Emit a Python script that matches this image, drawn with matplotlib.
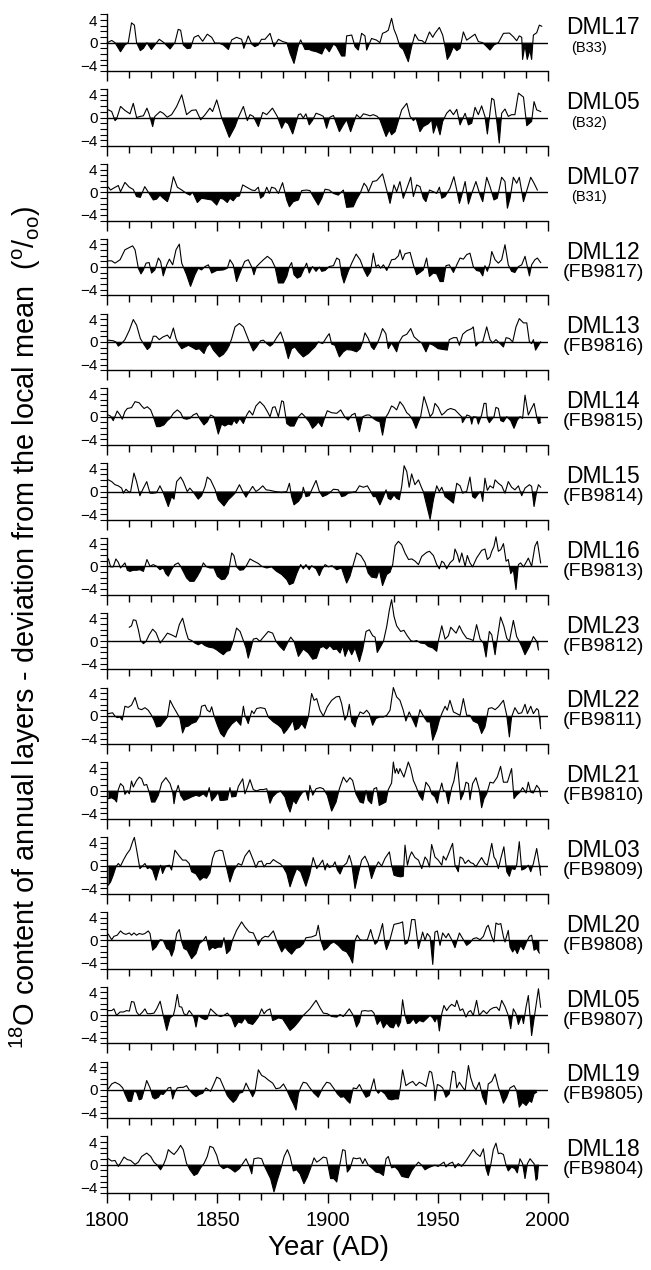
import numpy as np
import matplotlib.pyplot as plt
from matplotlib.ticker import MultipleLocator

plt.rcParams['font.family'] = ['Liberation Sans', 'DejaVu Sans']
plt.rcParams['mathtext.fontset'] = 'custom'
plt.rcParams['mathtext.rm'] = 'Liberation Sans'

# (year, deviation in per mil), one list per core
dml17 = [(1800, 0), (1802, 0.4), (1803.5, 0), (1806, -1.6), (1808, -0.4), (1809.5, 0), (1811, 3.5), (1812.3, 3.1),
         (1813.3, 0), (1815, -1.4), (1816.4, -1.0), (1818, 0), (1820, -1.2), (1821.6, -0.4), (1823.6, 0.6),
         (1825.4, 0.1), (1828.5, -1.1), (1830.7, 0), (1832.2, 2.35), (1833.3, 2.2), (1834.5, -0.4), (1836.3, -1.05),
         (1837.8, -0.95), (1839.4, 0.95), (1841.3, 1.3), (1843.3, 0.25), (1845.4, 1.5), (1847.4, 0.95), (1848.9, -0.1),
         (1850.9, -0.1), (1852.7, -0.4), (1855, -1.2), (1856.5, 0.5), (1858.7, 0.95), (1861, 0.6), (1862, -1.0),
         (1864, 1.2), (1865.6, -0.25), (1867, -0.7), (1868.6, -0.4), (1870, 0.6), (1871.6, 0.6), (1873.9, 1.65),
         (1875.7, -0.7), (1877.7, 0.6), (1879.6, 0.2), (1881.5, 0), (1883, -1.9), (1884.8, -3.65), (1886.7, -0.6),
         (1887.8, 0.5), (1889.8, -1.2), (1891.7, -1.2), (1892.8, -1.4), (1895, -1.6), (1897.4, -2.0), (1898.9, -0.7),
         (1900.8, -1.6), (1902.7, -0.25), (1904, -0.6), (1906.4, -2.35), (1907.9, -2.35), (1908.7, 1.2), (1911, 1.35),
         (1912.5, -0.7), (1914, -1.3), (1915.5, 1.65), (1917, 1.2), (1917.8, -1.3), (1920, 0.75), (1922.3, 0.45),
         (1923.8, 0), (1925, 1.65), (1926.5, 1.9), (1927.6, 2.2), (1929.1, 4.3), (1930.2, 2.35), (1931.4, 1.2),
         (1932.9, -0.7), (1934.4, -1.2), (1936.7, -3.35), (1938.2, -0.7), (1939.7, 1.5), (1941.3, 0.45), (1943, 0.35),
         (1944.3, -0.1), (1946.3, 1.9), (1947.8, 0.95), (1948.8, 1.65), (1950.8, 2.7), (1952.3, 1.35), (1953.4, -0.7),
         (1954.4, -2.95), (1955.6, -2.2), (1957.2, -0.7), (1958.7, -1.4), (1960.2, -1.0), (1961.7, 1.9), (1963.2, 0.45),
         (1965, 0.95), (1967, 1.5), (1968.5, 0.2), (1970.5, 0), (1972.3, -0.7), (1973.8, -1.3), (1975.6, -0.4),
         (1977.6, 0), (1979.9, 1.65), (1982.6, 1.7), (1984.4, 1.05), (1985.9, 0.35), (1987.1, 1.2), (1988.2, 0.95),
         (1988.6, -2.95), (1989.7, -0.4), (1990.7, -2.95), (1991.9, -1.3), (1992.7, -2.95), (1993.5, 1.35), (1995, 1.75),
         (1996.2, 3.1), (1997.3, 2.9)]

dml05_b32 = [(1800.5, 1.35), (1802, 1.05), (1803.5, -0.55), (1804.2, -0.3), (1806, 1.95), (1808, 1.25), (1810.3, 0.65),
             (1811.8, 2.5), (1813.3, 0), (1815, 0.2), (1816.4, 0.3), (1818, 1.65), (1819, 0.6), (1820.6, -1.6),
             (1821.6, 0.2), (1824, 1.05), (1825.4, 0.75), (1827.2, 0.05), (1829.2, 0.5), (1831.5, 1.95), (1833.8, 4.0),
             (1836, 0.5), (1838.3, 1.25), (1840.3, 1.35), (1842.4, -0.4), (1844.4, 0.5), (1846.6, 1.65), (1847.8, 1.05),
             (1849.7, 3.1), (1851.9, 0), (1855.4, -3.5), (1858, -1.6), (1859.5, 0), (1861.8, 1.95), (1863.6, -0.55),
             (1864.8, 0.5), (1866.3, 0.2), (1868.6, -1.6), (1870.6, 0.9), (1872.4, 0.5), (1875, 1.65), (1877.2, 0.2),
             (1879.2, -1.9), (1880.7, -0.7), (1882.2, -1.1), (1884.2, -2.9), (1886.8, 0.5), (1887.8, 0.65), (1889, -0.1),
             (1890.2, 0.65), (1891.7, -1.3), (1893.2, -0.5), (1894.8, 0.75), (1896.6, 0.5), (1898.1, 0.2), (1899.6, -1.9),
             (1901.1, 0.05), (1902.7, 0.35), (1905.4, -2.5), (1907.2, -1.3), (1908.7, -0.4), (1910.5, -2.5), (1913.2, 0.5),
             (1914.8, -0.1), (1916.3, 0.65), (1917.8, 0.5), (1919.3, 0.3), (1920.8, 0.5), (1922.6, 0.2), (1923.8, -0.4),
             (1926.6, -3.35), (1928.1, -2.2), (1929.1, -3.05), (1930.7, -2.5), (1933.7, 1.35), (1936, 2.5), (1937.5, 0.2),
             (1939, -0.55), (1940.2, -0.1), (1942, -2.5), (1943.5, -1.6), (1945.8, -1.1), (1947.3, -0.4), (1948.1, -2.75),
             (1949.6, -1.0), (1951.1, -3.05), (1952.3, -0.7), (1954.1, 0.75), (1955.6, 1.35), (1957.2, 0.5), (1958.7, 1.45),
             (1960.2, -1.3), (1961.3, -0.3), (1962.5, 0.75), (1964, -1.3), (1965.5, -1.0), (1967, 1.8), (1968.5, 0.5),
             (1970, 2.05), (1971.5, 0.2), (1972.6, -2.9), (1974.6, 3.4), (1975.6, 3.1), (1976.8, -0.4), (1978, -4.5),
             (1979.1, 0.75), (1980.6, 1.5), (1982.1, 0.2), (1983.6, 0.5), (1985.1, 0.5), (1986.7, 4.3), (1989, 3.6),
             (1990.5, -1.45), (1992.7, -0.7), (1993.8, 2.8), (1995, 1.35), (1996.8, 1.05)]

dml07 = [(1800.5, 0.9), (1801.5, 0.4), (1802.7, 0.7), (1805, 1.2), (1806, 0.1), (1808, 1.75), (1810, 0.9), (1811.8, 0.5),
         (1813.3, -0.75), (1815, -0.9), (1817, 1.0), (1819, -0.2), (1820.9, -1.35), (1822.4, -1.2), (1823.9, -0.5),
         (1825.4, -1.05), (1827.3, -1.65), (1828.5, -0.2), (1830, 2.75), (1831.8, 0.9), (1833.8, 0.4), (1836, -0.2),
         (1837.5, -0.5), (1838.8, 0), (1840.9, -1.8), (1842.8, -1.05), (1845.1, -1.2), (1847.4, -1.35), (1849.7, -2.25),
         (1851.2, -1.05), (1852.7, -1.2), (1854.5, -1.8), (1855.7, -1.05), (1857.2, -1.5), (1858.7, -0.75), (1860, -0.65),
         (1861.5, 1.3), (1863.3, 0.9), (1865.6, 0.4), (1867, 0.3), (1868.6, 0.9), (1869.6, -1.05), (1870.9, -0.65),
         (1872.4, 0.9), (1873.6, -0.2), (1874.6, 0.9), (1876.2, 0.7), (1877.7, -0.2), (1879.6, 1.7), (1881.5, -1.35),
         (1882.7, -2.55), (1884.5, -1.65), (1886.8, -1.35), (1888.3, 0.3), (1890.5, 0.4), (1892, 0.3), (1893.5, -0.75),
         (1895.8, -2.25), (1897.4, -1.05), (1898.9, 0.55), (1900.8, 0.4), (1902.7, -0.2), (1904.9, -0.5), (1907.2, 0.4),
         (1908.7, -2.65), (1911.7, -2.55), (1913.2, -1.25), (1914.8, -0.2), (1916.6, 1.6), (1917.8, 1.0), (1918.6, 0.1),
         (1920.5, 1.9), (1922.3, 2.05), (1925, 3.25), (1926.9, 0.4), (1928.4, -1.95), (1930.2, 1.3), (1931.4, 0.1),
         (1932.9, 1.9), (1934.4, -1.05), (1936.3, 1.0), (1937.8, 2.65), (1939, -0.75), (1940.5, 1.3), (1942, 1.0),
         (1943.5, -1.05), (1944.7, -1.65), (1946.3, 0.4), (1948.1, 0.1), (1949.6, -0.2), (1950.8, 0.9), (1951.9, -1.05),
         (1953.4, -0.75), (1955.6, 0.7), (1957.4, 2.75), (1958.7, 0.4), (1959.9, -1.95), (1961, -0.5), (1962.5, 1.9),
         (1964, -2.05), (1965.5, -0.2), (1967.4, 1.9), (1969.3, -0.5), (1970.5, -1.65), (1972.3, 2.65), (1973.8, 1.0),
         (1975.6, -1.35), (1977.1, -1.05), (1979.1, 2.65), (1980.6, 1.9), (1981.7, -2.8), (1982.9, -1.05), (1984.4, 2.65),
         (1985.9, 1.6), (1987.1, 2.65), (1989, -1.65), (1990.8, 0.7), (1992.3, 2.65), (1993.8, 1.6), (1995.3, 0.4)]

dml12 = [(1800.5, 1.1), (1802, 1.1), (1803.5, 0.7), (1805.8, 1.3), (1808, 3.05), (1810.3, 3.5), (1811.5, 3.75),
         (1812.6, 3.05), (1814.1, -0.2), (1815.3, -1.2), (1816.4, -0.5), (1817.6, 0.7), (1819, 0.8), (1820.1, -1.05),
         (1821.6, -0.5), (1823.2, 1.6), (1824.2, 1.0), (1825.4, -1.55), (1827, 0.4), (1828.2, 1.4), (1829.7, 0.4),
         (1831.2, 3.05), (1832.7, 4.05), (1833.8, 0.7), (1836, -1.35), (1837.8, -3.4), (1839.8, -1.35), (1841.3, -0.2),
         (1842.8, -0.5), (1844.4, 0.1), (1845.9, 0.4), (1847.4, -1.05), (1849.7, -0.6), (1852.7, -0.5), (1854.5, -0.2),
         (1855.7, 1.3), (1857.2, 0.4), (1858.7, -2.55), (1860.2, -1.05), (1862.4, 1.0), (1864, 1.3), (1865.6, 0),
         (1866.6, -1.35), (1867.8, 0.1), (1869.3, 0.7), (1870.9, 1.3), (1872.7, 1.9), (1874.6, 1.3), (1876.2, 0),
         (1877.7, -2.8), (1880, -2.8), (1881.5, -1.65), (1882.7, 0.1), (1883.7, 0.8), (1884.8, -1.35), (1886.3, -1.95),
         (1887.8, -1.65), (1889, -0.6), (1890.5, 0.7), (1891.7, -1.05), (1893.2, 0.1), (1894.8, -0.75), (1896.3, 0),
         (1897.4, -0.75), (1898.9, -0.6), (1900.8, 0.1), (1902.7, 0.25), (1904.2, 1.6), (1905.4, 1.3), (1906.4, -1.35),
         (1907.5, -2.8), (1909.4, -0.75), (1911, 0.7), (1913, 2.3), (1914.8, 1.3), (1916.6, -0.5), (1918.1, -1.65),
         (1919.6, -0.75), (1920.8, 2.45), (1922, 0.1), (1923.1, 0.4), (1924.1, -0.2), (1925.4, 0.4), (1926.9, -0.6),
         (1928.1, 0.4), (1929.1, 1.3), (1930.7, 1.4), (1932.2, 2.0), (1932.9, 3.05), (1934.1, 1.3), (1935.2, 2.35),
         (1937.5, 2.6), (1939, 0.4), (1940.5, -1.35), (1942, -0.95), (1943.5, -0.5), (1945, 1.6), (1946.3, -1.65),
         (1948.1, -1.05), (1949.6, -1.2), (1951.1, -2.55), (1952.6, -2.55), (1953.8, 0.25), (1955.3, 0.4), (1957.2, -0.95),
         (1958.7, 0.4), (1960.2, 1.6), (1961.7, 1.4), (1963.2, 2.2), (1964.7, 2.45), (1966.2, 0.1), (1967.7, -0.6),
         (1969.3, -0.75), (1970.5, -1.55), (1971.5, 0.25), (1972.6, -0.75), (1973.8, 0.7), (1974.6, 2.75), (1976.1, 1.3),
         (1977.6, 0.7), (1979.1, 1.3), (1980.6, 3.95), (1982.1, 0.4), (1983.6, -0.75), (1985.1, -0.95), (1986.7, 0.1),
         (1988.2, 0.4), (1989.7, 1.9), (1991.7, -1.55), (1992.7, 0.4), (1994.2, 1.3), (1995.3, 1.6), (1996.8, 0.8)]

dml13 = [(1800.5, 0.3), (1802.7, 0.2), (1803.9, 0), (1805, -0.75), (1806.5, -0.3), (1808, 0.4), (1810, 2.05),
         (1811.8, 3.95), (1813.3, 2.95), (1815, 0.6), (1816.4, -0.3), (1818.2, -1.35), (1819.4, -0.9), (1820.9, 1.0),
         (1822.1, 1.0), (1823.6, 0.4), (1825.4, 0.9), (1827.3, 1.2), (1828.5, 0.6), (1830, 2.45), (1831.2, 0.6),
         (1832.2, -0.3), (1833.8, -1.2), (1835.3, -0.9), (1836.8, -0.6), (1838.3, -0.9), (1840.3, -1.35), (1841.8, -1.2),
         (1843.9, -2.05), (1845.1, -0.9), (1846.6, -0.3), (1848.2, -1.45), (1850.9, -2.65), (1852.7, -2.2), (1854.2, -1.45),
         (1855.4, -0.6), (1856.5, 0.6), (1858, 2.65), (1860, 3.25), (1861.8, 2.65), (1863.6, 0.9), (1864.8, -0.3),
         (1866.3, -1.6), (1867.8, -0.9), (1869.6, 0.2), (1870.9, 0.3), (1872.4, -0.3), (1873.9, -0.75), (1875.1, -0.4),
         (1876.9, 0.75), (1878.7, 1.75), (1880, 0.3), (1881.2, -1.45), (1882.2, -2.95), (1883.7, -1.2), (1885.2, -0.9),
         (1886.8, -1.75), (1889, -2.65), (1891.3, -2.05), (1892.8, -1.45), (1894.3, -0.9), (1895.8, 0), (1897.8, -0.3),
         (1899.9, 1.0), (1900.8, 1.45), (1901.9, -0.4), (1903.4, -0.6), (1905.4, -2.65), (1907.2, -1.75), (1908.7, -1.35),
         (1911, -1.45), (1913.2, -1.75), (1914.8, -1.2), (1916, 0), (1917, 1.6), (1918.5, 0.6), (1920, -0.9),
         (1921.1, -1.35), (1922.6, -0.3), (1923.8, 0.9), (1925, 2.35), (1926.5, 1.45), (1927.6, -1.2), (1929.1, -0.2),
         (1930.2, -0.9), (1931.4, -1.75), (1932.6, 0), (1934.1, 1.0), (1936, 1.35), (1937.8, 2.35), (1939.3, 0.9),
         (1941.3, 0.2), (1942.8, -0.2), (1944.7, -1.75), (1946.3, -0.3), (1948.1, -0.6), (1950.3, -1.2), (1952.6, -1.35),
         (1954.4, -1.45), (1955.3, 0.4), (1957.2, 0.75), (1958.7, 0.75), (1959.9, -0.6), (1961.4, 1.35), (1963.2, 1.95),
         (1965.5, 2.35), (1966.2, 2.65), (1967.4, -0.75), (1968.5, -0.2), (1970.5, 0), (1972.3, 2.65), (1973.8, 0.4),
         (1975, -0.2), (1976.5, 0.4), (1978.4, -0.3), (1979.9, -0.9), (1981.1, 0.75), (1982.6, 0.6), (1984.1, 0),
         (1985.6, 2.65), (1987.1, 4.1), (1989, 3.35), (1990.5, 3.35), (1991.7, 0), (1992.7, -0.3), (1993.5, 0.4),
         (1994.5, -1.45), (1996.8, 0)]

dml14 = [(1800.5, 0.3), (1801.5, 0.1), (1802.7, -0.7), (1804.5, 1.0), (1805.8, 0.3), (1806.8, -0.45), (1808, 0.9),
         (1809.1, 1.45), (1811, 1.6), (1812.6, 2.65), (1814.5, 2.45), (1815.6, 1.9), (1816.7, 1.45), (1818.2, 1.75),
         (1819.7, 1.2), (1820.9, 0), (1822.4, -1.75), (1823.9, -1.75), (1825.7, -1.45), (1827.3, -0.7), (1828.5, -0.3),
         (1830, 0.6), (1831.8, 1.2), (1833.3, 0.7), (1834.5, -0.3), (1836, -0.45), (1837.5, -0.3), (1839, 0.3),
         (1840.6, 0.6), (1842.1, -0.45), (1843.9, -1.45), (1845.4, -0.9), (1846.9, 0.3), (1848.4, 0), (1850.4, -3.05),
         (1851.9, -1.3), (1853.4, -1.65), (1854.9, -1.3), (1856.5, -1.45), (1857.5, -0.6), (1858.7, -1.2), (1860.2, -0.3),
         (1861.8, -1.2), (1863.3, 0.3), (1864.5, 1.05), (1866, 0.3), (1867.5, 1.9), (1869.3, 2.65), (1871.2, 1.9),
         (1872.7, 0.9), (1873.9, 0), (1875.1, 1.65), (1876.2, 1.75), (1877.7, 0), (1879.2, 2.8), (1880, 2.65),
         (1881.5, -1.2), (1883, -1.65), (1884.8, -1.65), (1886.8, 0), (1888.3, 0.6), (1889.8, 0), (1891.7, -0.9),
         (1893.2, -2.05), (1894.8, -1.45), (1895.8, -0.9), (1897.4, -1.75), (1898.9, 0), (1899.9, 1.05), (1901.9, 0.7),
         (1904.2, 0.6), (1906, 1.2), (1907.9, -0.1), (1909.4, -0.6), (1911, 0.3), (1912.5, 0.6), (1914.5, -2.65),
         (1916, 0), (1917.8, 0.3), (1919, 0.3), (1920.8, -0.3), (1922.3, -0.7), (1923.8, -0.9), (1925, -3.25),
         (1926.5, -0.1), (1927.6, 0.6), (1929.1, 1.9), (1930.2, 1.65), (1931.4, 1.2), (1932.9, 2.65), (1934.4, 1.9),
         (1936, 0.7), (1937.2, 0.3), (1938.7, -0.6), (1940.2, -2.05), (1941.3, -0.9), (1942.3, 0), (1943.8, 3.55),
         (1945.3, 1.75), (1946.6, 0), (1947.8, 0.6), (1948.8, 2.35), (1950.3, 1.65), (1951.9, 0.3), (1952.9, 0.6),
         (1954.4, 1.2), (1955.9, 1.45), (1957.9, 1.2), (1959.4, 0.6), (1960.9, 0), (1961.3, -1.05), (1962.5, -0.3),
         (1963.3, 0.3), (1964.7, 0.1), (1965.5, -1.3), (1966.3, 0), (1967.7, -0.1), (1968.5, -1.3), (1970, 0.3),
         (1971.1, 2.35), (1972, 2.35), (1972.6, -0.3), (1973.5, -1.05), (1975.6, 0), (1976.5, 1.65), (1977.6, 1.45),
         (1978.7, -0.7), (1979.9, -0.9), (1981.4, 0), (1983.2, -0.7), (1984.7, -2.05), (1986.2, -0.6), (1987.4, 0),
         (1988.6, -0.3), (1989.7, 3.8), (1991.2, 0.3), (1992.3, 1.2), (1993.8, 2.35), (1995, 0), (1995.8, -1.2),
         (1996.8, -1.05)]

dml15 = [(1800.5, 2.05), (1802, 1.75), (1803.5, 1.2), (1805, 1.0), (1806.5, 0.6), (1807.3, -0.3), (1808.5, 0.4),
         (1810, -0.2), (1810.6, 0), (1812.1, 3.25), (1813.3, 1.75), (1814.8, -0.75), (1816.4, 0.6), (1817.9, 1.75),
         (1819.4, -0.3), (1820.9, -0.3), (1822.4, -0.2), (1823.9, 1.0), (1825.4, -0.2), (1827.7, -2.65), (1829.2, -0.9),
         (1830.3, -1.35), (1831.5, 1.75), (1833.3, 2.55), (1834.5, 1.75), (1836.3, 0), (1837.5, 0.6), (1839.4, -0.3),
         (1841.3, -1.35), (1842.8, -0.75), (1844.4, 0.9), (1845.4, 2.55), (1846.9, 2.05), (1848.9, 0.4), (1850.4, -1.45),
         (1853, -2.55), (1855, -1.45), (1856.5, -0.9), (1858, -0.3), (1860, 1.2), (1861.5, 0), (1863, -1.0),
         (1864.5, 0), (1866, 0.9), (1867.5, 0), (1869, 0.4), (1870.6, 1.0), (1872.1, 0.3), (1873.9, 0.2), (1876.2, 0),
         (1879.2, -0.2), (1881.5, 0), (1882.7, 1.45), (1883.7, -0.9), (1884.8, -2.35), (1886.8, -1.75), (1888.3, -0.9),
         (1889, 0.75), (1890.2, -0.9), (1891.7, -0.75), (1893.2, 0.6), (1894.8, 1.95), (1896.3, 0), (1897.8, -0.9),
         (1899.6, -0.6), (1900.8, -0.3), (1902.7, 0.4), (1904.9, 0.3), (1906.4, -0.9), (1907.9, -0.75), (1909.4, -0.3),
         (1911, -0.2), (1912.9, 0), (1914.5, 1.0), (1916.3, 0.75), (1918.1, 1.0), (1919.6, 0), (1920.8, -0.9),
         (1922, -0.9), (1923.8, -2.35), (1925.4, -0.9), (1926.6, 0.3), (1927.6, -1.2), (1928.7, -1.45), (1930.2, -0.6),
         (1931.4, -1.2), (1932.6, -1.45), (1933.7, 0.9), (1934.8, 4.55), (1936, 3.5), (1937.1, 0.75), (1938.2, 3.1),
         (1939.7, 1.2), (1941.3, 2.05), (1942.8, 0.6), (1943.5, 0), (1945, -2.35), (1946.6, -4.9), (1948.1, -1.45),
         (1949.6, 1.0), (1950.8, 0), (1951.9, 0.75), (1953.4, -0.9), (1955.3, -1.45), (1957.2, -2.05), (1958.7, 1.45),
         (1960.2, 1.0), (1961.4, -0.3), (1963.2, 0), (1964.7, 2.55), (1965.9, -0.9), (1967, -1.2), (1968.5, -0.4),
         (1969.6, 0), (1970.5, -1.75), (1971.5, 2.35), (1972.6, 0.2), (1973.8, 1.0), (1975.3, 0.6), (1976.1, 2.05),
         (1977.6, 1.45), (1979.1, 1.0), (1980.6, -0.3), (1982.1, 1.75), (1983.6, 0.75), (1985.1, 0.3), (1986.7, 1.0),
         (1988.2, -0.75), (1989.7, 0.6), (1991.7, 1.2), (1992.7, 0.9), (1993.8, -2.65), (1995, 0), (1995.8, 1.2),
         (1996.8, 0.75)]

dml16 = [(1800.5, 1.3), (1801.5, -0.1), (1802.7, -0.1), (1803.9, 1.3), (1805, 0.7), (1806, -0.3), (1807.3, 0.3),
         (1808, 0.6), (1809.1, -0.7), (1810.3, -0.9), (1811.8, -0.7), (1813.3, -0.7), (1814.8, -0.6), (1816.4, -0.9),
         (1818, 1.2), (1819.4, 0), (1820.9, 0.3), (1822.4, 0), (1823.9, -0.6), (1825.4, -0.3), (1826.6, -1.3),
         (1827.7, -1.75), (1829.2, -0.6), (1830.7, 0.3), (1832.2, 0.6), (1833.3, 0), (1834.5, -0.9), (1836, -2.05),
         (1837.5, -2.65), (1839.4, -2.65), (1840.9, -1.75), (1842.4, -0.7), (1843.6, 0.6), (1845.1, -0.1), (1846.6, -0.3),
         (1848.4, -0.3), (1850, -1.75), (1851.9, -2.35), (1853.4, -2.25), (1854.9, -1.3), (1856.5, 2.35), (1857.5, 1.9),
         (1858.7, -0.1), (1860.2, -0.7), (1861.8, -0.6), (1863, 0), (1864.8, 1.3), (1866.6, 0.9), (1868.6, 0.5),
         (1870.1, 0), (1872.4, -0.3), (1874.6, -0.1), (1876.9, -0.9), (1879.2, -1.45), (1881.5, -2.35), (1882.7, -3.25),
         (1884.5, -2.95), (1886, -1.3), (1887.8, 0.3), (1889, -0.45), (1890.2, 0.3), (1891.7, -0.6), (1892.8, 0.1),
         (1894.8, -0.45), (1896.3, -1.65), (1897.4, -0.6), (1898.9, 0.3), (1900.4, -0.1), (1902, 0.1), (1904.2, -0.6),
         (1906.4, -0.3), (1908.7, -2.95), (1910.2, -1.75), (1911.7, 0.3), (1913.2, 2.35), (1915.1, 1.9), (1917, 0.7),
         (1918.5, -1.2), (1920, -1.9), (1922.3, -2.05), (1923.5, -0.6), (1925, -3.4), (1926.9, -1.45), (1928.4, -1.05),
         (1929.6, 0.3), (1930.7, 3.65), (1932.2, 4.4), (1933.7, 3.8), (1935.2, 2.35), (1936.8, 1.2), (1938.3, 1.3),
         (1939.8, 0.9), (1941.3, 0.3), (1942.8, 1.75), (1945, 2.45), (1946.3, 2.65), (1948.1, 1.9), (1949.6, 0.3),
         (1950.8, -0.45), (1951.9, 0.9), (1952.9, 0.6), (1954.1, -0.45), (1955.6, 0.6), (1957.2, 1.2), (1957.9, 3.05),
         (1959, 2.05), (1959.9, 0.7), (1961, 2.35), (1962.5, 0), (1963.5, 1.9), (1964.7, 0.6), (1965.9, -0.1),
         (1967.7, 1.45), (1970, 2.8), (1971.5, 3.05), (1972.6, 1.2), (1973.8, 1.65), (1974.6, 2.65), (1975.6, 3.5),
         (1976.5, 5.2), (1977.6, 2.65), (1978.7, 2.95), (1979.9, 4.0), (1981.1, 0.9), (1982.1, 1.2), (1983.2, -1.3),
         (1984.4, -0.6), (1985.6, -4.1), (1986.7, 0.3), (1987.7, 0.6), (1989, -0.1), (1990.2, 0.7), (1991.2, 1.45),
         (1992.7, 0), (1994.2, 3.55), (1995.3, 4.4), (1996.8, 0.6)]

dml23 = [(1810, 2.45), (1811, 2.7), (1811.8, 3.75), (1813, 3.65), (1814.1, 2.0), (1815.1, 0.1), (1816.4, -0.45),
         (1817.6, -0.05), (1819, 1.1), (1820.6, 2.1), (1822.1, 1.5), (1824, -0.35), (1825.4, 0.35), (1827.3, 1.4),
         (1829.2, 1.1), (1831.2, 0.7), (1832.7, 2.9), (1834.2, 4.05), (1835.7, 1.7), (1836.8, 0.35), (1838.3, 0.1),
         (1839.8, -0.35), (1841.3, -0.65), (1842.8, -0.35), (1844.4, -0.8), (1845.9, -1.05), (1848.1, -1.2),
         (1849.7, -1.55), (1851.2, -2.0), (1852.7, -2.4), (1854.2, -1.8), (1855.7, -1.65), (1857.2, -0.05), (1858.7, 2.3),
         (1860.3, 1.7), (1861.8, 0.1), (1863, -1.2), (1864, -3.0), (1865.1, -1.5), (1866.3, 0.35), (1867.8, 0.5),
         (1869.3, -0.05), (1870.9, 0.7), (1873.1, 1.7), (1875.1, 1.4), (1876.6, -0.05), (1878.4, -0.95), (1880.2, -1.65),
         (1882.2, -0.05), (1883.3, 0.7), (1884.8, -0.05), (1886.8, -2.7), (1889, -1.4), (1891.3, -2.1), (1893.3, -3.2),
         (1895, -3.0), (1896.6, -1.2), (1898.1, -0.95), (1899.6, -1.4), (1901.1, -0.8), (1902.7, -1.5), (1904.2, -1.4),
         (1905.7, -2.1), (1906.9, -0.8), (1908, -2.7), (1909.5, -1.2), (1911, -2.4), (1912.5, -1.2), (1914.5, -3.6),
         (1916, -1.5), (1917.5, 1.7), (1919, 2.0), (1920.5, 0.95), (1921.6, 0.7), (1922.6, -2.0), (1923.8, -1.2),
         (1925.4, -0.05), (1926.9, 2.6), (1928.1, 5.5), (1929.1, 7.3), (1930.2, 4.35), (1931.4, 2.7), (1933.2, 1.7),
         (1934.7, 1.9), (1936.2, 0.95), (1937.8, 0.1), (1939, -0.05), (1940.5, 0.1), (1942.3, -0.35), (1944.3, -0.45),
         (1945.8, -0.95), (1947.8, -1.2), (1949.6, -1.8), (1950.3, -0.05), (1951.9, 2.7), (1953.4, 0.35), (1954.9, 0.95),
         (1956, 2.45), (1957.2, 1.9), (1958.4, 1.4), (1959.9, 2.7), (1961.4, 1.5), (1963.2, 0.5), (1964.7, 0.35),
         (1966.2, 0.1), (1967.7, 2.9), (1969.3, 0.35), (1970.8, -0.35), (1972, -2.8), (1973.5, 1.7), (1974.6, 1.1),
         (1976.1, -2.4), (1976.8, -0.35), (1978.6, 4.25), (1980.1, 2.6), (1981.4, 0.5), (1982.6, -0.05), (1984.4, 3.65),
         (1985.9, 0.8), (1987.1, -0.05), (1988.2, -0.95), (1989.7, -2.4), (1991.7, -0.95), (1993.5, 0.8), (1995, -0.05),
         (1995.8, -1.55)]

dml22 = [(1800.5, 0.4), (1802.4, 0.55), (1803.5, -0.05), (1804.5, -0.3), (1805.7, -0.2), (1806.8, -0.75), (1808, 1.7),
         (1809.5, 1.5), (1811, 1.9), (1812.6, 3.25), (1814.1, 1.3), (1815.6, 1.1), (1817.1, 1.45), (1818.6, 1.0),
         (1820.1, 0.1), (1821.2, -0.75), (1822.4, -1.95), (1824.2, -1.8), (1825.7, -1.05), (1827.3, -0.2), (1828.5, 2.75),
         (1830, 1.6), (1831.8, 0.4), (1833, -0.45), (1834.2, -3.0), (1835.3, -1.95), (1836.8, -1.8), (1838.3, -1.35),
         (1840.3, -1.05), (1842.1, 0.1), (1842.8, 1.7), (1844.4, 1.9), (1845.4, 1.0), (1846.6, 0.7), (1847.4, 1.6),
         (1848.4, 0.1), (1850, -1.65), (1851.5, -3.1), (1853, -3.7), (1854.5, -2.5), (1856.5, -1.45), (1858.7, -0.75),
         (1860.6, -1.65), (1861.8, 1.7), (1862.5, 0.1), (1864, -1.35), (1865.6, 0.9), (1866.6, 0.4), (1867.8, 1.3),
         (1869.6, 1.45), (1871.6, 1.3), (1873.1, -0.2), (1875.4, -1.05), (1877.7, -1.65), (1879.2, -2.2), (1880.2, -3.1),
         (1881.5, -2.5), (1883, -1.65), (1884.2, -0.75), (1885.2, -2.5), (1886.8, -2.2), (1888.3, -1.35), (1889.8, -2.2),
         (1891.3, -0.2), (1892.8, 3.95), (1893.9, 2.75), (1895.1, 3.05), (1896.6, 1.0), (1898.1, -0.05), (1899.9, 1.6),
         (1901.9, 2.75), (1903.9, 3.35), (1905.4, 3.45), (1906.4, 2.2), (1907.9, -0.75), (1909, 0.1), (1909.9, 2.05),
         (1911, -1.05), (1912.5, -1.95), (1913.2, -0.75), (1914.8, 0.7), (1916.3, 0.4), (1917.8, 1.0), (1919, 0.4),
         (1920.5, -1.65), (1922, -0.45), (1923.8, -0.2), (1925.4, -0.2), (1926.9, 0.1), (1928.4, 1.0), (1929.9, 5.0),
         (1931.4, 3.35), (1932.9, 2.75), (1934.4, 1.0), (1935.6, -0.9), (1937.1, 0.7), (1938.7, -0.65), (1940.2, -1.95),
         (1942, 1.1), (1943.8, -0.2), (1945.3, -1.05), (1946.6, -1.05), (1947.8, -4.3), (1949.6, -2.5), (1950.8, -0.75),
         (1951.9, 0.4), (1953.4, 1.7), (1954.4, 1.0), (1955.6, 2.75), (1957.2, 0.7), (1958.7, 0.4), (1960.2, 0.1),
         (1961.7, 3.05), (1963.2, 0.1), (1964.7, 0.1), (1966.2, -0.9), (1968.5, -1.35), (1970, -3.1), (1971.5, -1.95),
         (1973.1, 1.3), (1974.6, 1.45), (1976.1, 1.1), (1977.6, 1.6), (1979.9, 2.75), (1981.4, 0.1), (1982.6, -3.7),
         (1983.6, -0.2), (1985.1, 1.45), (1986.7, 0.4), (1988.2, 0.55), (1989.7, 2.05), (1990.8, 0.4), (1992.3, 1.7),
         (1993.5, 0.4), (1995, 1.3), (1995.8, 1.0), (1996.8, -2.25)]

dml21 = [(1800.5, -1.4), (1802, -1.25), (1803.5, -1.6), (1804.2, -2.0), (1805, 0.2), (1806, 1.25), (1807.3, 0.75),
         (1808, -0.65), (1809.1, -0.05), (1810, -0.55), (1811, 1.7), (1811.8, 0.65), (1813.3, 1.8), (1814.5, 2.4),
         (1815.6, 2.1), (1816.7, 0.95), (1817.9, 1.1), (1819, -0.25), (1820.1, -2.0), (1821.6, -2.0), (1823.2, -0.8),
         (1824.7, 1.35), (1826.6, 2.3), (1828.5, 1.25), (1829.7, -0.25), (1830.3, -2.3), (1831.2, -0.25), (1832.2, 0.95),
         (1833.3, -0.8), (1834.8, -1.7), (1836.8, -1.4), (1838.3, -1.1), (1840.3, -0.8), (1841.8, -1.0), (1843.6, -0.55),
         (1845.1, -1.1), (1846.3, 0.55), (1847.4, -1.8), (1848.9, -1.1), (1850.4, -0.25), (1851.2, -1.7), (1852.7, -1.7),
         (1854.5, -1.6), (1855.7, 0.55), (1856.5, -1.1), (1858.4, -1.0), (1859.5, 0.75), (1861.5, 2.1), (1862.5, -0.55),
         (1863.6, 0.55), (1864.8, 1.95), (1866.3, 0.2), (1867.8, -0.05), (1869.3, 0.2), (1870.9, 0.2), (1872.4, 0.35),
         (1873.9, -2.2), (1875.1, -1.1), (1876.9, -0.4), (1878.7, -0.05), (1880.7, -1.1), (1881.8, -2.6), (1883, -3.75),
         (1884.5, -1.7), (1885.7, -2.3), (1887.2, -1.1), (1888.7, -0.25), (1890.2, -0.05), (1891.3, -1.7), (1892, 0.95),
         (1893.3, -0.8), (1894.8, 0.35), (1896.6, 0.55), (1898.1, 0.35), (1899.9, -0.8), (1901.9, -3.6), (1903.9, -2.0),
         (1905.4, 0.35), (1907.2, 2.4), (1908.7, 1.5), (1910.2, 2.3), (1911.4, 1.8), (1912.9, -0.55), (1914.8, -2.0),
         (1916.3, -2.2), (1917.5, 0.05), (1918.5, -1.7), (1920, -2.3), (1921.1, 0.35), (1922.3, 0.55), (1923.5, -2.6),
         (1925, -2.3), (1926.5, -2.0), (1927.6, 0.2), (1929.1, 1.35), (1929.9, 5.05), (1930.7, 3.1), (1931.4, 3.9),
         (1932.2, 3.0), (1932.9, 3.9), (1934.7, 2.4), (1936.7, 5.05), (1937.8, 3.9), (1939, 1.8), (1940.2, 0.75),
         (1941.7, -0.8), (1943.2, -1.7), (1944.7, 1.5), (1946.3, 0.65), (1947.3, -0.55), (1948.8, -1.1), (1949.9, -2.2),
         (1950.8, -0.25), (1951.9, 1.35), (1952.6, 0.05), (1953.8, -0.25), (1954.9, -2.3), (1956.4, 0.55), (1957.4, 1.7),
         (1958.9, 5.05), (1960.5, -1.6), (1961.7, -0.55), (1962.9, 1.5), (1964, 1.25), (1964.7, -1.6), (1965.9, 1.25),
         (1967.4, 2.3), (1968.9, 0.2), (1970, -3.0), (1971.1, -1.4), (1972.3, -0.55), (1973.8, 1.5), (1975.3, 1.35),
         (1977.1, 2.4), (1978.6, 4.3), (1979.9, 1.5), (1981.7, 1.5), (1983.6, 3.9), (1984.7, -1.4), (1985.9, -0.8),
         (1987.4, -0.25), (1988.6, 0.55), (1990.2, -0.4), (1991.2, 1.5), (1992.3, -0.25), (1993.5, -0.4), (1995, 0.95),
         (1996.2, 0.35), (1996.8, -1.0)]

dml03 = [(1800.5, -3.45), (1801.5, -2.9), (1802.7, -1.7), (1803.9, -0.25), (1805, 0.35), (1806, -0.1), (1807.3, 0.95),
         (1808.8, 2.0), (1810.3, 2.8), (1811.5, 4.2), (1812.3, 4.95), (1813.3, 2.8), (1814.8, -0.55), (1816, -0.1),
         (1817.1, 0.35), (1818.2, -0.55), (1819.4, -0.35), (1820.6, -0.8), (1822.1, -2.6), (1823.2, -1.1), (1824.2, 0.05),
         (1825.1, -1.4), (1826.6, -0.1), (1828.2, 0.05), (1829.2, -0.8), (1830.7, 2.7), (1832.7, 1.65), (1834.2, 0.95),
         (1835.7, 0.95), (1837.2, 0.35), (1838.3, -1.1), (1840.3, -1.5), (1842.1, -2.6), (1843.6, -2.1), (1845.1, -2.25),
         (1846.6, -1.3), (1847.8, 1.25), (1848.9, 2.4), (1850.9, 2.7), (1852.4, 2.6), (1853.9, 0.05), (1855.7, -2.9),
         (1857.5, -0.8), (1859.5, 0.35), (1861, 0.05), (1862.5, 1.65), (1864.5, 2.7), (1866.3, 0.95), (1867.5, -0.35),
         (1868.6, 0.65), (1870.1, 0.8), (1871.2, -0.25), (1872.4, 0.35), (1873.9, 0.35), (1875.4, 1.05), (1876.9, 0.65),
         (1878.7, 0.25), (1880, -0.35), (1881.5, -1.4), (1883, -3.75), (1884.5, -2.0), (1886, -0.55), (1887.8, -1.1),
         (1890.2, -3.65), (1892, -1.4), (1893.5, 1.4), (1895.1, -0.55), (1896.6, 0.25), (1897.8, 0.95), (1898.9, -0.8),
         (1899.9, 0.35), (1900.8, -0.35), (1902.4, -0.1), (1903.4, 0.65), (1904.5, -0.8), (1905.7, -1.5), (1907.2, -0.1),
         (1908.7, 0.45), (1909.9, 1.8), (1911, 0.35), (1912.5, -4.05), (1914, -1.4), (1915.5, 0.95), (1917, 1.65),
         (1918.5, 0.35), (1920, -2.3), (1921.6, -0.55), (1923.1, 0.65), (1924.6, -0.1), (1926.1, 1.25), (1928.1, 2.4),
         (1929.1, 0.05), (1930.2, -1.7), (1931.7, -1.9), (1933.2, -2.0), (1934.4, -1.9), (1935.2, 3.6), (1936.3, 0.05),
         (1937.2, 1.5), (1938.2, 2.4), (1939.7, 1.4), (1941.3, 0.95), (1942.8, -0.55), (1944.3, 1.5), (1945.3, 0.95),
         (1946.3, -0.25), (1947.3, 3.7), (1948.8, 1.5), (1950.3, 0.95), (1951.9, 0.05), (1952.6, 1.65), (1953.8, 0.95),
         (1954.9, 2.0), (1956.8, 3.9), (1957.9, 0.05), (1959.4, -1.1), (1960.2, 1.5), (1961.4, 1.25), (1962.5, 0.35),
         (1964, 0.95), (1965, 0.5), (1966.2, 0.35), (1967.4, -0.25), (1968.5, 0.5), (1970, 1.4), (1971.5, 0.35),
         (1972.6, 0.05), (1974.6, 3.9), (1975.6, 1.5), (1976.5, 0.95), (1977.6, -0.55), (1978.7, 1.25), (1980.1, 3.3),
         (1981.4, -1.1), (1982.6, -1.9), (1983.6, -0.55), (1985.1, -0.7), (1985.9, 0.05), (1987.1, 4.2), (1988.2, -0.8),
         (1989.7, -0.55), (1991.2, 0.05), (1992.3, -1.1), (1993.5, 0.35), (1995, 3.0), (1996.2, 0.05), (1996.8, -1.7)]

dml20 = [(1800.5, 1.05), (1802, 0.1), (1803, 0.7), (1804.5, 0.9), (1806, 1.65), (1807.3, 1.2), (1808.5, 1.05),
         (1810, 1.3), (1811, 0.9), (1812.1, 1.3), (1813.3, 0.9), (1814.5, 1.2), (1816, 1.05), (1817.1, 1.2),
         (1818.6, 1.65), (1819.4, 1.2), (1820.6, -1.75), (1822.1, -1.2), (1824, 0.1), (1825.4, 0), (1827, -1.45),
         (1828.2, -1.75), (1829.2, -2.8), (1830.3, -1.65), (1831.5, 1.2), (1832.7, 1.9), (1833.8, -0.3), (1834.8, -1.45),
         (1836.3, -1.75), (1838.3, -3.25), (1840.3, -2.35), (1841.8, -0.6), (1843.6, 0), (1844.8, 0.7), (1846.3, -1.75),
         (1847.8, -1.2), (1848.9, -1.45), (1850.4, -1.2), (1851.9, -1.2), (1853, 0.45), (1854.2, -2.35), (1855.7, -1.75),
         (1856.9, 0.1), (1858.7, 1.75), (1861, 3.25), (1862.5, 2.35), (1864.5, 1.45), (1866.3, 1.3), (1867.8, 0),
         (1868.6, -0.9), (1870.1, 0.3), (1871.6, 0.7), (1873.1, 0.6), (1875.4, 1.65), (1877.2, -0.3), (1879.2, -2.05),
         (1880.7, -1.2), (1882.2, -1.9), (1883.7, -2.45), (1885.7, -1.45), (1887.5, -1.2), (1889, -0.6), (1890.2, 0.45),
         (1892.8, 0.6), (1894.8, 0.9), (1895.8, 2.65), (1896.9, 0), (1898.4, -1.75), (1899.9, -1.3), (1901.4, -0.6),
         (1902.9, -0.3), (1904.9, -0.9), (1906.9, -1.75), (1908.7, -2.05), (1910.2, -2.95), (1911.4, -4.0), (1912.5, 0),
         (1913.5, 0.9), (1914.8, 0.1), (1916.3, 0), (1918.1, 0.1), (1919.6, 1.9), (1920.5, 0.6), (1921.6, -0.7),
         (1922.6, -0.3), (1923.8, 1.2), (1925, 2.95), (1926.1, -0.6), (1926.8, -1.65), (1928.1, -0.3), (1929.1, 1.2),
         (1930.2, 2.8), (1931.7, 2.95), (1932.9, 3.05), (1934.1, 3.25), (1935.2, -0.7), (1936.3, -0.45), (1937.2, 0.9),
         (1938.2, 3.65), (1939.7, 3.65), (1941.3, -1.45), (1942.3, 0), (1943.2, 1.45), (1944.3, 0), (1945.3, 1.2),
         (1946.6, 0.6), (1947.8, -4.25), (1948.8, 1.45), (1949.9, 1.65), (1951.1, -0.9), (1952.3, 1.3), (1953.8, 0.45),
         (1954.9, 1.2), (1956.4, 0.1), (1957.9, -1.3), (1959.9, 1.3), (1961.7, 0.1), (1963.2, -0.9), (1964.7, -0.45),
         (1966.2, 0.3), (1967.7, 0.45), (1969.3, 0.1), (1970.8, 0.7), (1972.3, 2.35), (1973, 2.65), (1974.6, 0.6),
         (1975.6, -0.3), (1976.5, 3.05), (1977.6, 2.8), (1978.7, 2.95), (1979.9, 0.6), (1980.6, -0.3), (1982.1, 1.75),
         (1982.9, -1.2), (1984.1, -2.05), (1985.1, -1.45), (1986.2, -2.35), (1987.7, -0.9), (1989, -1.65), (1990.4, -0.3),
         (1991.7, 0.7), (1992.7, 0.9), (1993.8, -1.75), (1995, -1.45), (1996.2, -2.25)]

dml05_fb = [(1800.5, 0.8), (1802, 0.8), (1803, 1.1), (1804.2, -0.05), (1805.8, 0.55), (1807.3, 0.55), (1808.8, 0.8),
            (1810, 0.7), (1811, 2.4), (1812.1, 2.3), (1813.3, 0.55), (1814.5, -0.05), (1816, 0.55), (1817.1, 1.1),
            (1818.2, 0.25), (1819.7, 0.25), (1821.2, 0.35), (1822.4, 1.1), (1824, 2.45), (1825.4, -0.05), (1827, -2.7),
            (1828.5, -0.5), (1830, -0.05), (1830.7, 1.1), (1831.8, 3.65), (1832.7, 1.5), (1833.8, 1.4), (1834.8, 0.25),
            (1836, -0.05), (1837.2, 0.8), (1838.3, 0.25), (1839.4, -0.5), (1840.3, -2.1), (1841.3, -0.05), (1842.8, -0.5),
            (1844.4, -0.8), (1845.4, -0.65), (1846.9, 1.1), (1848.4, 0.55), (1850, -0.05), (1851.5, -0.25), (1853, -0.05),
            (1854.5, 0.35), (1855.4, -0.05), (1856.5, -0.5), (1858, -2.1), (1859.5, -1.2), (1861, -1.4), (1862.5, -0.5),
            (1864, -1.4), (1866, -1.65), (1867, -1.2), (1868.6, -0.35), (1870.1, 1.1), (1871.2, 0.25), (1872.4, 0.8),
            (1873.9, 1.1), (1875.1, -0.95), (1876.2, -0.8), (1877.7, -0.5), (1879.6, -0.65), (1881.5, -1.8), (1883, -2.7),
            (1884.8, -2.1), (1886.8, -1.2), (1889, -0.05), (1892, 1.1), (1894.8, 2.6), (1896.6, 1.3), (1898.1, 0.35),
            (1899.9, 0.25), (1901.9, -0.25), (1904.2, -0.35), (1905.7, 0.1), (1907.2, -0.25), (1909.9, 1.1),
            (1911.7, -0.05), (1913.2, -2.1), (1914.5, -1.2), (1915.5, 0.7), (1917, 0.8), (1918.5, 0.7), (1920, 0.8),
            (1921.1, 0.35), (1922.6, -1.65), (1924.1, -0.8), (1925.4, -2.25), (1926.9, -1.4), (1928.4, -2.1),
            (1929.9, -2.25), (1931.1, -1.2), (1932.2, -2.1), (1933.2, -1.2), (1934.1, 2.7), (1935.2, -0.05), (1936.3, -1.5),
            (1937.5, -1.4), (1939, -0.65), (1940.2, -1.5), (1941.7, -0.95), (1943.5, -1.2), (1945, -0.65), (1946.6, -0.05),
            (1947.8, -0.5), (1948.8, -1.2), (1949.9, -0.25), (1950.8, -2.8), (1951.9, 0.25), (1952.9, 1.7), (1954.1, 0.8),
            (1955.3, 1.5), (1956.4, 1.9), (1957.9, 1.5), (1958.7, 2.6), (1960.2, 0.8), (1961.4, 1.1), (1962.9, -0.35),
            (1964, 0.55), (1965, 0.8), (1966.2, -0.05), (1967.7, 2.6), (1968.9, -0.05), (1970.8, 0.8), (1972.3, 0.25),
            (1973.8, 0.95), (1975.3, 1.3), (1976.8, 1.4), (1978, 0.8), (1979.1, 2.6), (1980.6, 1.5), (1982.1, -0.05),
            (1983.2, -2.4), (1984.4, 1.1), (1985.6, 0.25), (1986.7, -1.65), (1988.2, -0.05), (1989, -1.5), (1990.2, 1.5),
            (1991.2, 3.45), (1992.7, -3.6), (1993.8, -0.65), (1995.8, 4.65), (1996.8, 1.4)]

dml19 = [(1800.5, 0.2), (1802, 1.05), (1803.5, 1.35), (1805.5, 0.95), (1807, 0.35), (1808, -0.7), (1809.5, -2.0),
         (1811, -2.0), (1812.1, -0.25), (1813.3, -0.4), (1814.5, -1.75), (1815.6, -1.6), (1817.1, 0.45), (1817.9, 1.65),
         (1819.4, 0.35), (1820.6, -1.3), (1821.6, -1.6), (1823.2, -1.3), (1824.2, -0.7), (1825.4, -0.8), (1826.6, -0.25),
         (1827.7, 0.35), (1828.8, 0.45), (1829.7, -1.6), (1830.7, -0.4), (1831.8, 0.35), (1833.3, 0.45), (1834.5, 0.45),
         (1836, 0.75), (1837.2, 0), (1838.8, -0.7), (1840.3, -1.2), (1841.8, -0.8), (1843.3, -0.6), (1844.8, 0.35),
         (1845.9, 0), (1846.9, -0.25), (1848.4, 1.05), (1849.7, 2.25), (1851.2, 1.95), (1852.7, 0.6), (1854.5, -1.0),
         (1855.7, -1.6), (1857.2, -2.2), (1858.4, -1.75), (1860, -0.6), (1861.5, -0.4), (1863, 1.2), (1864.5, 0),
         (1866, -1.2), (1867, -0.4), (1868.6, 3.55), (1870.1, 2.55), (1871.6, 2.25), (1873.1, 1.75), (1875.1, 1.2),
         (1876.6, 0.2), (1878.4, 0.35), (1880, 1.05), (1881.5, 0), (1883, -1.3), (1884.5, -2.45), (1885.7, -3.55),
         (1886.8, -0.7), (1887.8, 0.45), (1889, 1.35), (1890.5, 1.2), (1892, 0.35), (1893.9, -0.6), (1895.8, -1.3),
         (1897.8, 0.35), (1899.6, 1.35), (1901.1, 1.2), (1902.7, 0.35), (1904.5, -0.7), (1906, -1.3), (1907.5, -1.2),
         (1909, -1.9), (1910.2, -2.35), (1911.7, 0.35), (1913.2, 0.2), (1914.5, 0.95), (1916, -0.25), (1917.5, -1.3),
         (1919, -1.0), (1920, 0.45), (1921.1, 1.95), (1922, 0), (1923.1, -0.6), (1924.2, -0.1), (1926.1, -0.7),
         (1927.6, -1.6), (1929.1, -1.75), (1930.7, -1.6), (1932.2, -1.6), (1933.2, 0.75), (1934.1, 3.55), (1935.6, 0.75),
         (1937.2, 1.2), (1938.7, 1.5), (1940.2, 0.75), (1941.7, 1.35), (1943.2, 1.05), (1944.7, 0.6), (1946.3, 3.3),
         (1947.3, 3.1), (1948.4, 0.6), (1948.8, -1.9), (1949.9, 0.95), (1951.1, 0.75), (1952.3, 0.35), (1953.8, -1.3),
         (1955.3, -0.7), (1956.8, 3.3), (1957.9, 3.1), (1958.7, 0.35), (1959.9, 1.35), (1961.4, 0.45), (1962.5, -0.1),
         (1964, 4.3), (1965, 2.2), (1966.2, 0.75), (1967.4, 0), (1968.9, 1.35), (1970.5, -1.3), (1972, -2.6),
         (1973, 1.05), (1974.6, 1.5), (1976.1, 2.8), (1977.6, 0.45), (1978.6, -0.7), (1979.9, -2.35), (1981.4, -1.3),
         (1982.9, 0.35), (1984.7, 0.75), (1985.9, -0.1), (1987.1, -3.05), (1988.6, -2.2), (1990.2, -2.75), (1991.7, -1.9),
         (1992.7, -2.2), (1993.8, -0.7), (1995, -0.4)]

dml18 = [(1800.5, 1.05), (1802, 0.65), (1803.5, 0.75), (1805, -0.3), (1806, 0.3), (1807.6, 1.35), (1809.1, 0.9),
         (1810.6, 0.75), (1812.6, 0.05), (1814.1, 0.45), (1815.6, 1.45), (1817.9, 2.05), (1819.7, 1.45), (1821.2, 0.45),
         (1822.7, -0.1), (1824.2, -0.9), (1825.4, -0.1), (1826.6, 1.05), (1827.7, 2.65), (1828.8, 2.25), (1830.3, 1.8),
         (1831.8, 2.5), (1833.3, 3.4), (1834.5, 2.65), (1836, 0.2), (1837.5, -0.9), (1839.4, -1.9), (1840.9, -1.6),
         (1842.4, -0.55), (1843.9, 0.2), (1845.4, 1.45), (1846.6, 3.25), (1848.1, 3.0), (1849.7, 1.65), (1850.9, -0.1),
         (1852.7, -0.7), (1854.5, -0.4), (1856, -0.7), (1858, -1.3), (1860, -0.7), (1861.5, 0.2), (1863, 1.05),
         (1864.5, -0.3), (1865.6, -1.6), (1866.6, 1.05), (1868.6, 1.2), (1870.1, 1.05), (1871.2, -0.1), (1872.7, -1.3),
         (1874.2, -2.5), (1875.7, -4.8), (1877.2, -2.75), (1878.7, -0.9), (1880.3, 1.45), (1881.8, 2.65), (1883, 1.45),
         (1884.5, -1.1), (1886, -0.9), (1887.5, -1.6), (1889.3, -3.35), (1890.8, -2.2), (1892.4, -0.55), (1893.9, 1.2),
         (1895.1, 0.45), (1896.3, 0.75), (1898.1, 1.35), (1899.6, 1.2), (1900.4, -0.4), (1901.4, -2.45), (1902.9, -2.45),
         (1904.2, -3.05), (1905.7, 0.2), (1906.9, 2.65), (1908, 2.5), (1909, -1.3), (1910.2, -0.7), (1911.7, 1.2),
         (1913.2, 1.05), (1914.8, 1.2), (1916, 0.2), (1917, 1.05), (1918.5, -0.1), (1920, -0.55), (1922, -1.3),
         (1923.8, -1.45), (1925.4, -1.9), (1926.6, 1.05), (1927.6, 1.45), (1929.1, -0.55), (1930.7, -0.4), (1932.2, -1.0),
         (1933.7, -2.05), (1935.2, -2.2), (1936.7, -2.3), (1938.2, -1.1), (1939.7, -0.3), (1941.3, 0.45), (1942.8, -0.1),
         (1944.3, -0.9), (1945.8, -0.55), (1947.3, -0.3), (1948.8, -0.1), (1950.3, -0.3), (1951.9, 0.2), (1952.9, 0.45),
         (1953.8, -0.4), (1955.3, 0.2), (1956.8, 0.45), (1957.9, -0.55), (1959.4, 0.2), (1960.9, -0.3), (1962.5, 0.45),
         (1964, 1.35), (1966.2, 2.65), (1967.7, 1.95), (1969.3, 1.45), (1970.8, 2.8), (1972, -0.7), (1973, -1.9),
         (1974.1, -0.1), (1975.3, 2.65), (1976.5, 3.8), (1977.6, 1.95), (1978.6, 2.05), (1979.9, 1.8), (1981.1, -0.1),
         (1982.1, -1.1), (1983.6, -0.4), (1985.1, -0.7), (1986.2, -1.45), (1987.4, 1.05), (1988.6, 0.2), (1989.7, -2.45),
         (1990.8, 0.2), (1992, 1.05), (1993.2, 0.45), (1993.8, 0.2), (1994.7, -2.75), (1995.3, -2.45), (1995.8, -0.1)]

core_names = ['DML17', 'DML05', 'DML07', 'DML12', 'DML13', 'DML14', 'DML15', 'DML16',
              'DML23', 'DML22', 'DML21', 'DML03', 'DML20', 'DML05', 'DML19', 'DML18']
core_ids = ['(B33)', '(B32)', '(B31)', '(FB9817)', '(FB9816)', '(FB9815)', '(FB9814)', '(FB9813)',
            '(FB9812)', '(FB9811)', '(FB9810)', '(FB9809)', '(FB9808)', '(FB9807)', '(FB9805)', '(FB9804)']
series = [dml17, dml05_b32, dml07, dml12, dml13, dml14, dml15, dml16,
          dml23, dml22, dml21, dml03, dml20, dml05_fb, dml19, dml18]

W, H = 651, 1270
fig = plt.figure(figsize=(W / 100, H / 100), dpi=100)

left_px, right_px = 107.3, 547.7
first_zero, step, half = 42.7, 74.8, 28.35

for k, (name, cid, pts) in enumerate(zip(core_names, core_ids, series)):
    zero = first_zero + k * step
    ax = fig.add_axes([left_px / W, 1 - (zero + half) / H, (right_px - left_px) / W, 2 * half / H])
    yr, val = np.array(pts).T
    ax.fill_between(yr, val, 0, where=val < 0, interpolate=True, color='black', lw=0)
    ax.plot(yr, val, color='black', lw=0.8, clip_on=False)
    ax.axhline(0, color='black', lw=1.0)
    ax.set_xlim(1800, 2000)
    ax.set_ylim(-5, 5)
    ax.patch.set_alpha(0)
    for s in ['top', 'right']:
        ax.spines[s].set_visible(False)
    ax.spines['left'].set_linewidth(1.0)
    ax.spines['bottom'].set_linewidth(1.0)
    ax.set_yticks([-4, 0, 4])
    ax.yaxis.set_minor_locator(MultipleLocator(1))
    ax.set_xticks(range(1800, 2001, 50))
    ax.xaxis.set_minor_locator(MultipleLocator(10))
    ax.tick_params(axis='y', which='both', direction='out', length=5, width=0.8, labelsize=11, pad=2)
    ax.tick_params(axis='x', which='major', direction='out', length=7, width=1.0, labelsize=14.5, pad=6)
    ax.tick_params(axis='x', which='minor', direction='out', length=5, width=1.0)
    if k < len(series) - 1:
        ax.set_xticklabels([])

    fig.text(566 / W, 1 - (zero - 15) / H, name, ha='left', va='center', fontsize=16.5)
    small = cid.startswith('(B')
    fig.text((571 if small else 563) / W, 1 - (zero + 5) / H, cid, ha='left', va='center',
             fontsize=10.5 if small else 14)

fig.text(25 / W, 1 - 628 / H,
         r'$\mathregular{^{18}}$O content of annual layers - deviation from the local mean  '
         r'($\mathregular{^{o}/_{oo}}$)',
         rotation=90, ha='center', va='center', fontsize=20.8)
fig.text(328 / W, 1 - 1248 / H, 'Year (AD)', ha='center', va='center', fontsize=20)

fig.savefig('out.png', dpi=100)
